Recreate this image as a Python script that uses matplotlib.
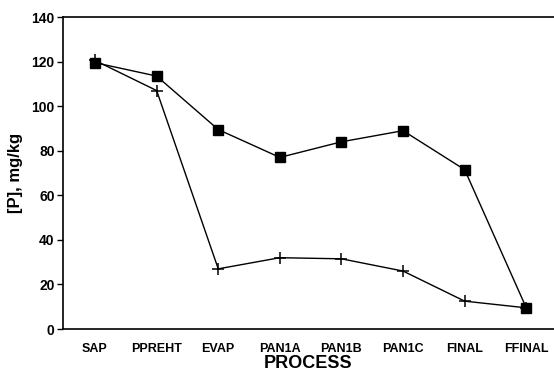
import matplotlib
matplotlib.use("Agg")
import matplotlib.pyplot as plt

stages = ["SAP", "PPREHT", "EVAP", "PAN1A", "PAN1B", "PAN1C", "FINAL", "FFINAL"]
p_squares = [119.5, 113.5, 89.5, 77, 84, 89, 71.5, 9.5]
p_crosses = [120.5, 107, 27, 32, 31.5, 26, 12.5, 9.5]
y_ticks = [0, 20, 40, 60, 80, 100, 120, 140]

plt.rcParams["font.family"] = ["Liberation Sans", "DejaVu Sans"]

fig = plt.figure(figsize=(5.54, 3.74), dpi=100)
ax = fig.add_axes([0.1137, 0.1203, 0.8863, 0.8342])

x = list(range(len(stages)))
ax.plot(x, p_crosses, color="black", lw=1.0, marker="+", ms=9, mew=1.1)
ax.plot(x, p_squares, color="black", lw=1.0, marker="s", ms=7)

ax.set_xlim(-0.52, 7.45)
ax.set_ylim(0, 140)
ax.set_yticks(y_ticks)
ax.set_xticks(x)
ax.set_xticklabels(stages, fontsize=9, fontweight="bold")
ax.set_yticklabels([str(v) for v in y_ticks], fontsize=10, fontweight="bold")
ax.tick_params(axis="x", length=0, pad=10)
ax.tick_params(axis="y", length=4, width=1, direction="out", pad=2)
ax.spines["right"].set_visible(False)
for s in ("left", "top", "bottom"):
    ax.spines[s].set_linewidth(1.2)

ax.set_ylabel("[P], mg/kg", fontsize=12, fontweight="bold", labelpad=6)
ax.set_xlabel("PROCESS", fontsize=13, fontweight="bold", labelpad=0)

fig.savefig("out.png", dpi=100)
